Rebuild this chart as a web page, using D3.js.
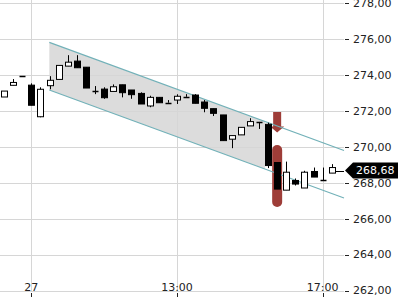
<!DOCTYPE html>
<html>
<head>
<meta charset="utf-8">
<script src="https://cdn.jsdelivr.net/npm/d3@7"></script>
<style>
  body { margin: 0; background: #fff; }
  svg { display: block; font-family: "DejaVu Sans", sans-serif; }
</style>
</head>
<body>
<script>
// 15-minute candles, index = position on the session axis
const opens  = [272.78, 273.43, 273.96, 273.44, 271.68, 273.41, 273.76, 274.50, 274.78, 274.44,
                273.11, 273.22, 273.09, 273.46, 273.17, 272.98, 272.28, 272.76, 272.46, 272.61,
                272.79, 272.89, 272.50, 272.13, 271.78, 270.43, 270.67, 271.17, 271.39, 271.26,
                269.13, 267.59, 268.13, 267.71, 268.63, 268.15, 268.54];
const highs  = [273.11, 273.78, 273.96, 273.54, 273.32, 273.94, 274.54, 275.11, 275.11, 274.44,
                273.39, 273.32, 273.48, 273.46, 273.17, 273.04, 272.85, 272.76, 272.61, 272.93,
                272.94, 272.94, 272.61, 272.13, 271.78, 270.63, 271.09, 271.60, 271.39, 271.35,
                269.13, 269.18, 268.24, 268.67, 268.85, 268.85, 269.04];
const lows   = [272.78, 273.43, 273.96, 272.32, 271.65, 273.21, 273.76, 274.50, 274.41, 273.28,
                272.94, 272.68, 273.09, 272.76, 272.68, 272.39, 272.21, 272.46, 272.46, 272.39,
                272.79, 272.43, 271.93, 271.72, 270.35, 269.93, 270.67, 271.17, 271.00, 268.82,
                267.65, 267.59, 267.85, 267.71, 268.32, 268.15, 268.54];
const closes = [273.11, 273.59, 273.96, 272.32, 273.21, 273.71, 274.54, 274.72, 274.41, 273.28,
                273.11, 272.74, 273.35, 273.02, 272.91, 272.39, 272.76, 272.46, 272.46, 272.82,
                272.79, 272.43, 272.15, 271.87, 270.35, 270.63, 271.09, 271.41, 271.39, 268.96,
                267.65, 268.59, 267.93, 268.59, 268.32, 268.15, 268.85];

const xTickIndex  = [3, 19, 35];
const xTickLabels = ["27", "13:00", "17:00"];
const yTicks = [262, 264, 266, 268, 270, 272, 274, 276, 278];

const lastPrice = 268.68;

// trend channel: [index, upper, lower] at its two ends, fill stops at fillEnd
const channelStart = [4.98, 275.82, 273.17];
const channelEnd   = [37.34, 269.80, 267.15];
const channelFillEnd = 28.66;

// breakout signal on candle 30: arrow above, bar below
const signalIndex = 30;
const signalArrow = [271.95, 270.80];
const signalBar   = [270.10, 266.65];

const fmt = d => d3.format(".2f")(d).replace(".", ",");

const W = 400, H = 300;
const plotRight = 344;

const x = d3.scaleLinear().domain([0, 36]).range([3.98, 331.8]);
const y = d3.scaleLinear().domain([262, 278]).range([290.5, 3.3]);

const svg = d3.select("body").append("svg")
    .attr("width", W)
    .attr("height", H);

const candles = opens.map((o, i) => ({ i, o, h: highs[i], l: lows[i], c: closes[i] }));

// channel fill
svg.append("clipPath").attr("id", "fillclip")
  .append("rect")
    .attr("x", 0).attr("y", 0)
    .attr("width", x(channelFillEnd)).attr("height", H);

svg.append("path")
    .attr("clip-path", "url(#fillclip)")
    .attr("fill", "#dcdcdc")
    .attr("d", d3.line()([
        [x(channelStart[0]), y(channelStart[1])],
        [x(channelEnd[0]), y(channelEnd[1])],
        [x(channelEnd[0]), y(channelEnd[2])],
        [x(channelStart[0]), y(channelStart[2])]
    ]) + "Z");

// grid
const crisp = v => Math.round(v) + 0.5;
svg.append("g").selectAll("line.h")
  .data(yTicks)
  .join("line")
    .attr("x1", 0).attr("x2", plotRight)
    .attr("y1", d => crisp(y(d))).attr("y2", d => crisp(y(d)))
    .attr("stroke", "#d6d6d6");

svg.append("g").selectAll("line.v")
  .data(xTickIndex)
  .join("line")
    .attr("x1", d => crisp(x(d))).attr("x2", d => crisp(x(d)))
    .attr("y1", 0).attr("y2", crisp(y(262)))
    .attr("stroke", "#d6d6d6");

// signal marker (drawn under the candles)
const sx = x(signalIndex);
svg.append("rect")
    .attr("x", sx - 5).attr("width", 10)
    .attr("y", y(signalBar[0])).attr("height", y(signalBar[1]) - y(signalBar[0]))
    .attr("rx", 5).attr("ry", 5)
    .attr("fill", "#9e3d38");

const aTop = y(signalArrow[0]), aTip = y(signalArrow[1]);
const aNeck = aTip - 6;
svg.append("path")
    .attr("fill", "#9e3d38")
    .attr("d", `M${sx - 4},${aTop} L${sx + 4},${aTop} L${sx + 4},${aNeck} L${sx + 7},${aNeck}
                L${sx},${aTip} L${sx - 7},${aNeck} L${sx - 4},${aNeck} Z`);

// channel lines
[[1], [2]].forEach(([k]) => {
    svg.append("line")
        .attr("x1", x(channelStart[0])).attr("y1", y(channelStart[k]))
        .attr("x2", x(channelEnd[0])).attr("y2", y(channelEnd[k]))
        .attr("stroke", "#72b1b8")
        .attr("stroke-width", 1.2);
});

// candles
const bodyW = 6;
const cg = svg.append("g").selectAll("g")
  .data(candles)
  .join("g");

cg.append("line")
    .attr("x1", d => crisp(x(d.i))).attr("x2", d => crisp(x(d.i)))
    .attr("y1", d => y(d.h)).attr("y2", d => y(d.l))
    .attr("stroke", "#000");

cg.filter(d => Math.abs(d.o - d.c) > 0.02)
  .append("rect")
    .attr("x", d => Math.round(x(d.i) - bodyW / 2) + 0.5)
    .attr("width", bodyW)
    .attr("y", d => y(Math.max(d.o, d.c)))
    .attr("height", d => y(Math.min(d.o, d.c)) - y(Math.max(d.o, d.c)))
    .attr("fill", d => d.c >= d.o ? "#fff" : "#000")
    .attr("stroke", "#000");

cg.filter(d => Math.abs(d.o - d.c) <= 0.02)
  .append("line")
    .attr("x1", d => Math.round(x(d.i) - bodyW / 2) + 0.5)
    .attr("x2", d => Math.round(x(d.i) + bodyW / 2) + 0.5)
    .attr("y1", d => crisp(y(d.c))).attr("y2", d => crisp(y(d.c)))
    .attr("stroke", "#000")
    .attr("stroke-width", 1.5);

// last price line
svg.append("line")
    .attr("x1", x(36) + bodyW / 2 + 1).attr("x2", plotRight)
    .attr("y1", crisp(y(lastPrice))).attr("y2", crisp(y(lastPrice)))
    .attr("stroke", "#000");

// y axis labels
const ya = svg.append("g");
ya.selectAll("line")
  .data(yTicks)
  .join("line")
    .attr("x1", 345).attr("x2", 349)
    .attr("y1", d => crisp(y(d))).attr("y2", d => crisp(y(d)))
    .attr("stroke", "#222");
ya.selectAll("text")
  .data(yTicks)
  .join("text")
    .attr("x", 353)
    .attr("y", d => y(d))
    .attr("dy", "0.35em")
    .attr("font-size", 11)
    .attr("fill", "#222")
    .text(fmt);

// x axis labels
const xa = svg.append("g");
xa.selectAll("text")
  .data(xTickIndex)
  .join("text")
    .attr("x", d => x(d))
    .attr("y", 291)
    .attr("text-anchor", "middle")
    .attr("font-size", 11)
    .attr("fill", "#222")
    .text((d, i) => xTickLabels[i]);
xa.selectAll("line")
  .data(xTickIndex)
  .join("line")
    .attr("x1", d => crisp(x(d))).attr("x2", d => crisp(x(d)))
    .attr("y1", 293).attr("y2", 297)
    .attr("stroke", "#222");

// current price tag
const py = y(lastPrice);
svg.append("path")
    .attr("fill", "#000")
    .attr("d", `M345,${py} L353,${py - 8} L398,${py - 8} L398,${py + 8} L353,${py + 8} Z`);
svg.append("text")
    .attr("x", 356)
    .attr("y", py)
    .attr("dy", "0.35em")
    .attr("font-size", 11)
    .attr("fill", "#fff")
    .text(fmt(lastPrice));
</script>
</body>
</html>
